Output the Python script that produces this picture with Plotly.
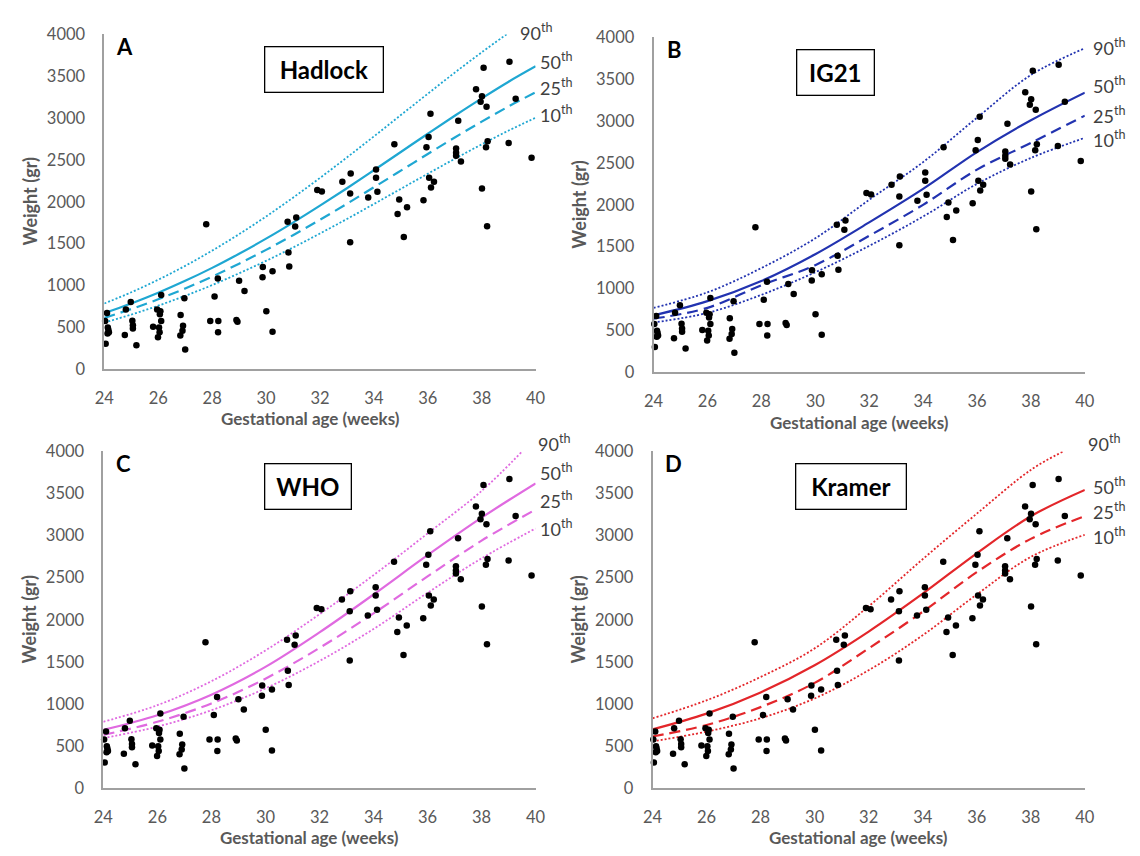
import plotly.graph_objects as go

# ---------------- data ----------------
ga_points = [24.03, 24.10, 24.13, 24.15, 24.17, 24.12, 24.05, 24.80, 24.98, 25.04, 25.06, 25.06, 24.76, 25.19,
             25.81, 25.96, 26.08, 26.06, 26.11, 26.03, 26.05, 25.99, 26.11, 26.83, 26.97, 26.92, 26.90, 26.82,
             27.00, 27.78, 27.93, 28.09, 28.21, 28.23, 28.22, 28.90, 28.94, 29.00, 29.20, 29.87, 29.88, 30.01,
             30.24, 30.24, 30.83, 30.86, 30.80, 31.12, 31.08, 31.90, 32.07, 32.83, 33.14, 33.12, 33.12, 34.08,
             34.08, 34.13, 33.79, 34.76, 34.94, 34.88, 35.23, 35.11, 36.10, 36.03, 35.95, 36.05, 36.12, 36.23,
             35.84, 37.13, 37.05, 37.05, 37.05, 37.23, 37.79, 38.07, 38.01, 37.96, 38.18, 38.22, 38.16, 38.01,
             38.20, 39.03, 39.26, 39.00, 39.85]
weight_points = [576, 672, 498, 470, 440, 425, 303, 712, 801, 579, 523, 484, 408, 284,
                 506, 712, 693, 655, 576, 498, 440, 381, 887, 646, 848, 518, 459, 401,
                 233, 1732, 576, 868, 1082, 576, 440, 588, 565, 1055, 934, 1097, 1220, 693,
                 1171, 448, 1393, 1225, 1762, 1813, 1704, 2140, 2124, 2240, 2338, 2100, 1517, 2385,
                 2287, 2120, 2050, 2688, 2027, 1855, 1933, 1580, 3053, 2773, 2653, 2287, 2170, 2240,
                 2019, 2968, 2637, 2586, 2551, 2482, 3345, 3602, 3260, 3194, 3135, 2723, 2653, 2158,
                 1708, 3672, 3232, 2703, 2525]

# Hadlock
hadlock_weeks = [24, 25, 26, 27, 28, 29, 30, 31, 32, 33, 34, 35, 36, 37, 38, 39, 40]
hadlock_p10 = [556, 652, 758, 876, 1004, 1145, 1294, 1453, 1621, 1794, 1973, 2154, 2335, 2513, 2686, 2851, 3004]
hadlock_p25 = [612, 718, 834, 964, 1106, 1260, 1425, 1600, 1785, 1976, 2173, 2372, 2571, 2768, 2958, 3140, 3308]
hadlock_p50 = [670, 785, 913, 1055, 1210, 1379, 1559, 1751, 1953, 2162, 2377, 2595, 2813, 3028, 3236, 3435, 3619]
hadlock_p90_weeks = [24, 25, 26, 27, 28, 29, 30, 31, 32, 33, 34, 35, 36, 37, 38, 39]
hadlock_p90 = [784, 918, 1068, 1234, 1416, 1613, 1824, 2049, 2285, 2530, 2781, 3036, 3291, 3543, 3786, 4019]

# IG21
even_weeks = [24, 26, 28, 30, 32, 34, 36, 38, 40]
ig21_p10 = [595, 710, 925, 1195, 1510, 1860, 2250, 2560, 2800]
ig21_p25 = [640, 770, 1040, 1280, 1630, 2000, 2420, 2740, 3065]
ig21_p50 = [680, 850, 1090, 1410, 1790, 2190, 2630, 3010, 3340]
ig21_p90 = [770, 955, 1245, 1600, 2060, 2510, 3040, 3550, 3870]

# WHO
who_p10 = [594, 730, 925, 1185, 1510, 1890, 2320, 2730, 3085]
who_p25 = [632, 788, 1005, 1300, 1665, 2075, 2515, 2940, 3310]
who_p50 = [691, 865, 1110, 1440, 1850, 2300, 2767, 3213, 3620]
who_p90_weeks = [24, 26, 28, 30, 32, 34, 36, 38, 39.5]
who_p90 = [788, 985, 1270, 1635, 2065, 2530, 3025, 3530, 4000]

# Kramer
kramer_p10 = [555, 671, 830, 1065, 1400, 1816, 2300, 2747, 3010]
kramer_p25 = [613, 749, 962, 1250, 1660, 2095, 2565, 2961, 3232]
kramer_p50 = [698, 885, 1137, 1460, 1860, 2310, 2790, 3230, 3543]
kramer_p90_weeks = [24, 26, 28, 30, 32, 34, 36, 38, 39.2]
kramer_p90 = [829, 1043, 1320, 1660, 2160, 2720, 3260, 3780, 4000]

x_ticks = [24, 26, 28, 30, 32, 34, 36, 38, 40]
y_ticks = [0, 500, 1000, 1500, 2000, 2500, 3000, 3500, 4000]
percentile_labels = ["90", "50", "25", "10"]

# ---------------- layout helpers ----------------
W, H = 1140, 856
def fx(px): return px / W
def fy(py): return 1 - py / H

FONT = "Lato"
TICK_COLOR = "#595959"

panels = [
    dict(name="Hadlock", letter="A", color="#1fa7d2", ax="", x0=96, x1=535, ytop=25, ybot=367.7,
         curves=[(hadlock_p90_weeks, hadlock_p90, "dot"), (hadlock_weeks, hadlock_p50, "solid"),
                 (hadlock_weeks, hadlock_p25, "dash"), (hadlock_weeks, hadlock_p10, "dot")],
         box=(260, 379), labels_y=[23, 52, 79, 106], labels_x=[517, 537, 537, 537]),
    dict(name="IG21", letter="B", color="#2233b0", ax="2", x0=655, x1=1094, ytop=28, ybot=371,
         curves=[(even_weeks, ig21_p90, "dot"), (even_weeks, ig21_p50, "solid"),
                 (even_weeks, ig21_p25, "dash"), (even_weeks, ig21_p10, "dot")],
         box=(801, 879), labels_y=[38, 77, 107, 132], labels_x=[1100, 1100, 1100, 1100]),
    dict(name="WHO", letter="C", color="#e06ae0", ax="3", x0=95, x1=535, ytop=452, ybot=796.7,
         curves=[(who_p90_weeks, who_p90, "dot"), (even_weeks, who_p50, "solid"),
                 (even_weeks, who_p25, "dash"), (even_weeks, who_p10, "dot")],
         box=(260, 347), labels_y=[443, 473, 502, 530], labels_x=[535, 537, 537, 537]),
    dict(name="Kramer", letter="D", color="#e3262a", ax="4", x0=654, x1=1094, ytop=452, ybot=796.7,
         curves=[(kramer_p90_weeks, kramer_p90, "dot"), (even_weeks, kramer_p50, "solid"),
                 (even_weeks, kramer_p25, "dash"), (even_weeks, kramer_p10, "dot")],
         box=(801, 912), labels_y=[443, 487, 513, 539], labels_x=[1095, 1100, 1100, 1100]),
]

fig = go.Figure()
annotations = []
layout = dict(
    width=W, height=H, margin=dict(l=0, r=0, t=0, b=0),
    paper_bgcolor="white", plot_bgcolor="white", showlegend=False,
    font=dict(family=FONT, color=TICK_COLOR),
)

dash_map = {"solid": "solid", "dash": "11px,6px", "dot": "2px,2px"}
width_map = {"solid": 2.2, "dash": 2.2, "dot": 1.8}

for p in panels:
    a = p["ax"]
    xa, ya = "x" + a, "y" + a
    for (wk, vals, style) in p["curves"]:
        fig.add_trace(go.Scatter(x=wk, y=vals, mode="lines", xaxis=xa, yaxis=ya,
                                 line=dict(color=p["color"], width=width_map[style], dash=dash_map[style],
                                           shape="spline", smoothing=1.0),
                                 hoverinfo="skip"))
    fig.add_trace(go.Scatter(x=ga_points, y=weight_points, mode="markers", xaxis=xa, yaxis=ya,
                             marker=dict(color="black", size=6.5), cliponaxis=False))

    layout["xaxis" + a] = dict(domain=[fx(p["x0"]), fx(p["x1"])], range=[24, 40], tickvals=x_ticks,
                               showgrid=False, zeroline=False, showline=True, linecolor="#a0a0a0",
                               linewidth=1.8, ticks="outside", ticklen=13, tickcolor="rgba(0,0,0,0)",
                               tickfont=dict(family=FONT, size=16.5, color=TICK_COLOR),
                               anchor=ya, fixedrange=True)
    layout["yaxis" + a] = dict(domain=[fy(p["ybot"]), fy(p["ytop"])], range=[0, 4000], tickvals=y_ticks,
                               showgrid=False, zeroline=False, showline=True, linecolor="#a0a0a0",
                               linewidth=1.8, ticks="outside", ticklen=14, tickcolor="rgba(0,0,0,0)",
                               tickfont=dict(family=FONT, size=16.5, color=TICK_COLOR),
                               anchor=xa, fixedrange=True)

    annotations.append(dict(text="<b>Gestational age (weeks)</b>", xref="paper", yref="paper",
                            x=fx((p["x0"] + p["x1"]) / 2 - 10), y=fy(p["ybot"] + 51), showarrow=False,
                            font=dict(family=FONT, size=17, color=TICK_COLOR), xanchor="center", yanchor="middle"))
    annotations.append(dict(text="<b>Weight (gr)</b>", xref="paper", yref="paper", textangle=-90,
                            x=fx(p["x0"] - 76), y=fy((p["ytop"] + p["ybot"]) / 2), showarrow=False,
                            font=dict(family=FONT, size=18, color=TICK_COLOR), xanchor="center", yanchor="middle"))
    annotations.append(dict(text="<b>" + p["letter"] + "</b>", xref="paper", yref="paper",
                            x=fx(p["x0"] + 21), y=fy(p["ytop"] + 12), showarrow=False,
                            font=dict(family=FONT, size=22, color="black"), xanchor="center", yanchor="middle"))
    bx0, bx1 = p["box"]
    annotations.append(dict(text="<b>" + p["name"] + "</b>", xref="paper", yref="paper",
                            x=fx((bx0 + bx1) / 2), y=fy(p["ytop"] + 36), showarrow=False,
                            width=bx1 - bx0 - 2, height=44, borderpad=0,
                            bordercolor="black", borderwidth=1.3, bgcolor="white",
                            font=dict(family=FONT, size=24, color="black"), xanchor="center", yanchor="middle"))
    for lab, lx, ly in zip(percentile_labels, p["labels_x"], p["labels_y"]):
        annotations.append(dict(text=lab + "<sup>th</sup>", xref="paper", yref="paper",
                                x=fx(lx), y=fy(ly), showarrow=False,
                                font=dict(family=FONT, size=18, color="#404040"),
                                xanchor="left", yanchor="middle"))

layout["annotations"] = annotations
fig.update_layout(**layout)
fig.write_html("out.html", config={"displayModeBar": False},
               post_script="document.body.style.margin='0';document.body.style.overflow='hidden';")
